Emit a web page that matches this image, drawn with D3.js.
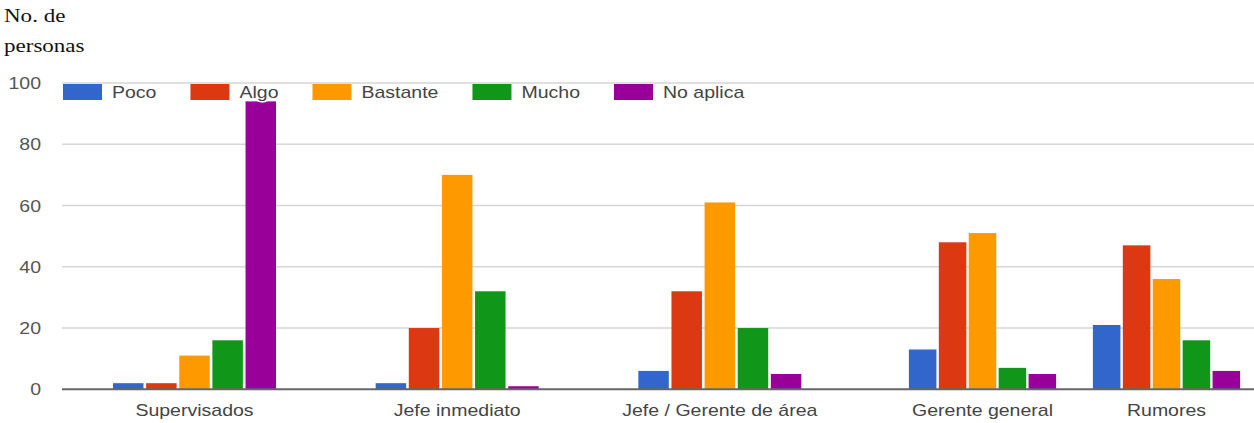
<!DOCTYPE html>
<html>
<head>
<meta charset="utf-8">
<script src="https://cdn.jsdelivr.net/npm/d3@7"></script>
<style>
  html, body { margin: 0; padding: 0; background: #fff; }
  svg { display: block; }
</style>
</head>
<body>
<svg id="chart" width="1254" height="423"></svg>
<script>
// Categories (information sources) and response series
const categories = ["Supervisados", "Jefe inmediato", "Jefe / Gerente de área", "Gerente general", "Rumores"];
const seriesNames = ["Poco", "Algo", "Bastante", "Mucho", "No aplica"];
const seriesColors = ["#3366cc", "#dc3912", "#ff9900", "#109618", "#990099"];

// Number of people per category, one array per series
const poco     = [2, 2, 6, 13, 21];
const algo     = [2, 20, 32, 48, 47];
const bastante = [11, 70, 61, 51, 36];
const mucho    = [16, 32, 20, 7, 16];
const noAplica = [94, 1, 5, 5, 6];

const yTicks = [0, 20, 40, 60, 80, 100];
const yTitle = ["No. de", "personas"];

const seriesValues = [poco, algo, bastante, mucho, noAplica];

const W = 1254, H = 423;
const plotLeft = 62, plotRight = 1254;
const sx = 1.22; // horizontal text stretch

const svg = d3.select("#chart");

const y = d3.scaleLinear().domain([0, 100]).range([389.3, 83]);

// group centres: piecewise linear over category index
const x = d3.scaleLinear()
  .domain([0, 3, 4])
  .range([194.5, 982.5, 1166.5]);

function groupWidth(i) {
  const step = i < categories.length - 1 ? x(i + 1) - x(i) : x(i) - x(i - 1);
  return Math.min(163, 0.8 * step);
}

// gridlines
svg.append("g")
  .selectAll("line")
  .data(yTicks.filter(t => t !== 0))
  .join("line")
  .attr("x1", plotLeft).attr("x2", plotRight)
  .attr("y1", d => y(d)).attr("y2", d => y(d))
  .attr("stroke", "#d6d6d6")
  .attr("stroke-width", 1.6);

// y tick labels
svg.append("g")
  .selectAll("text")
  .data(yTicks)
  .join("text")
  .attr("transform", d => `translate(41,${y(d) + 6}) scale(${sx},1)`)
  .attr("text-anchor", "end")
  .attr("font-family", "Liberation Sans, Arial, sans-serif")
  .attr("font-size", 16)
  .attr("fill", "#555")
  .text(d => d);

// bars
const barsG = svg.append("g");
categories.forEach((cat, i) => {
  const gw = groupWidth(i);
  const inner = d3.scaleBand()
    .domain(seriesNames)
    .range([x(i) - gw / 2, x(i) + gw / 2])
    .paddingInner(0.08);
  barsG.append("g")
    .selectAll("rect")
    .data(seriesNames.map((s, k) => ({ s, k, v: seriesValues[k][i] })))
    .join("rect")
    .attr("x", d => inner(d.s))
    .attr("width", inner.bandwidth())
    .attr("y", d => y(d.v))
    .attr("height", d => y(0) - y(d.v))
    .attr("fill", d => seriesColors[d.k]);
});

// baseline
svg.append("line")
  .attr("x1", plotLeft).attr("x2", plotRight)
  .attr("y1", y(0)).attr("y2", y(0))
  .attr("stroke", "#666")
  .attr("stroke-width", 2);

// category labels
svg.append("g")
  .selectAll("text")
  .data(categories)
  .join("text")
  .attr("transform", (d, i) => `translate(${x(i)},416) scale(${sx},1)`)
  .attr("text-anchor", "middle")
  .attr("font-family", "Liberation Sans, Arial, sans-serif")
  .attr("font-size", 16)
  .attr("fill", "#444")
  .text(d => d);

// legend
const legend = svg.append("g");
let lx = 63;
seriesNames.forEach((name, k) => {
  legend.append("rect")
    .attr("x", lx).attr("y", 84)
    .attr("width", 39).attr("height", 16)
    .attr("fill", seriesColors[k]);
  const t = legend.append("text")
    .attr("transform", `translate(${lx + 49},98) scale(${sx},1)`)
    .attr("font-family", "Liberation Sans, Arial, sans-serif")
    .attr("font-size", 16)
    .attr("fill", "#444")
    .attr("stroke", "#fff")
    .attr("stroke-width", 3)
    .attr("paint-order", "stroke")
    .attr("stroke-linejoin", "round")
    .text(name);
  const tw = t.node().getComputedTextLength() * sx;
  lx = lx + 49 + tw + 34;
});

// axis title
svg.append("g")
  .selectAll("text")
  .data(yTitle)
  .join("text")
  .attr("transform", (d, i) => `translate(4,${22 + i * 30}) scale(1.28,1)`)
  .attr("font-family", "Liberation Serif, Times New Roman, serif")
  .attr("font-size", 18)
  .attr("fill", "#111")
  .text(d => d);
</script>
</body>
</html>
